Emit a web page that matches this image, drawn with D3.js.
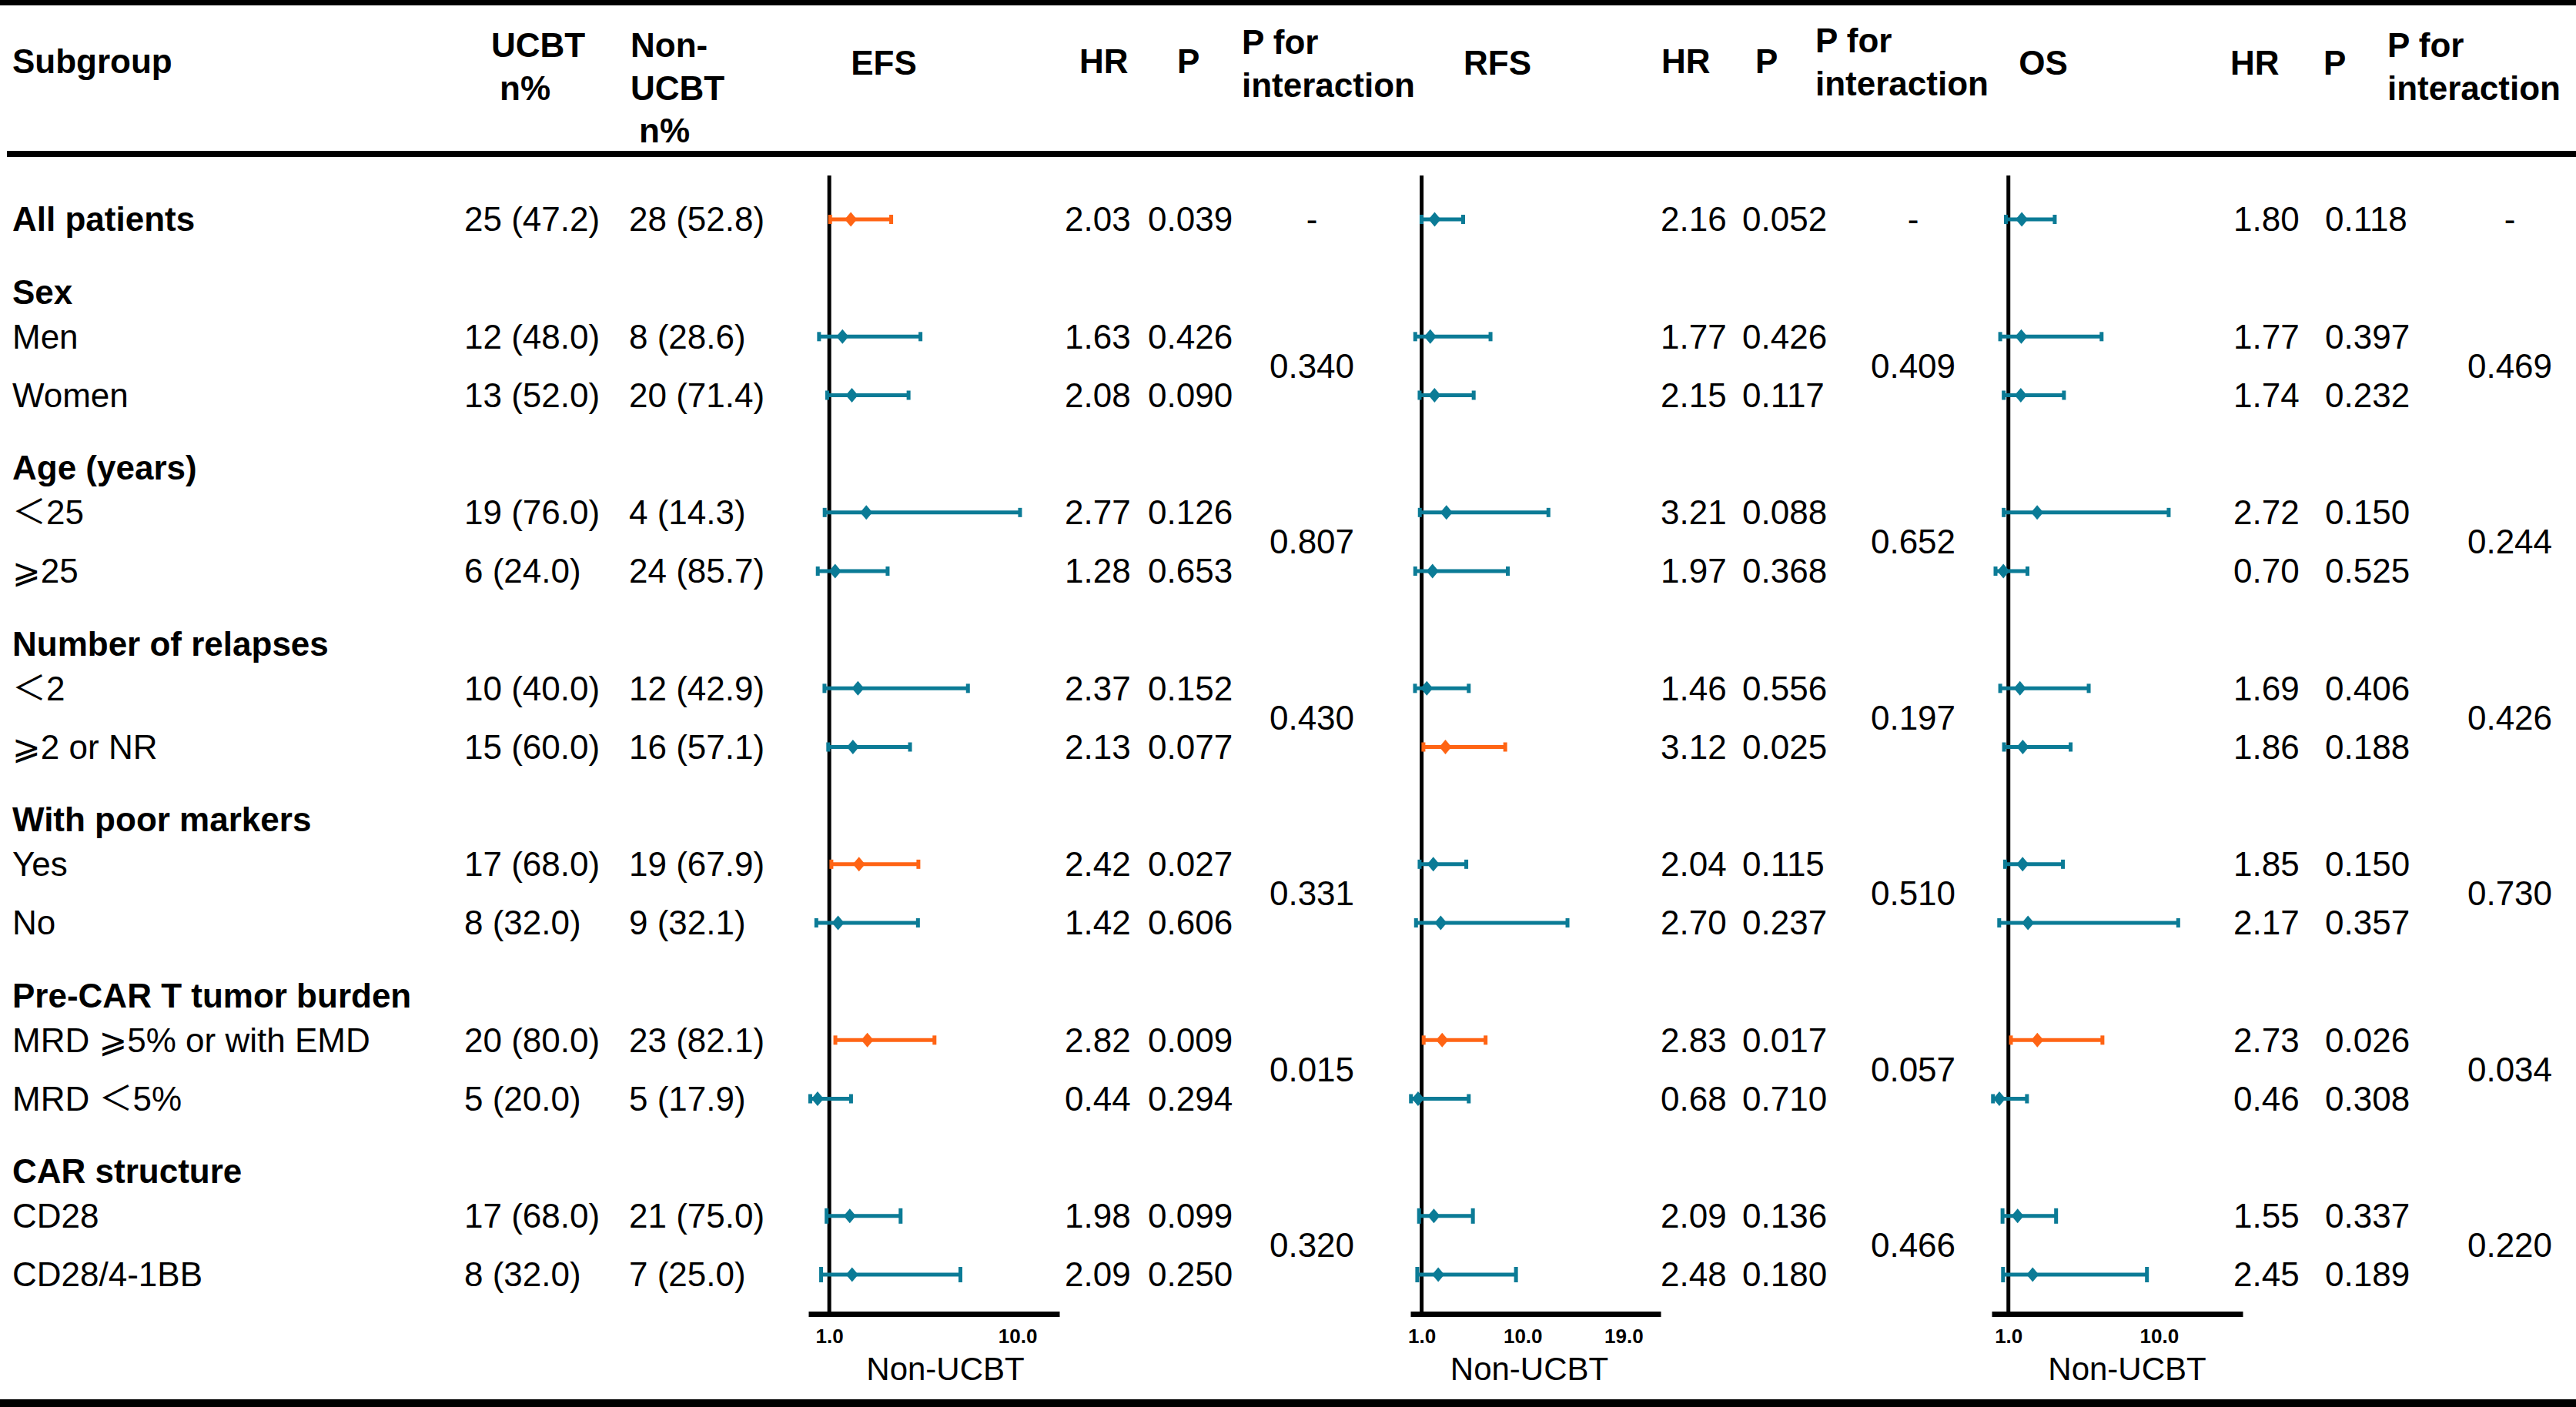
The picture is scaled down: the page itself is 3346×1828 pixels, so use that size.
<!DOCTYPE html>
<html lang="en">
<head>
<meta charset="UTF-8">
<title>Subgroup forest plot</title>
<script src="https://d3js.org/d3.v7.min.js"></script>
<style>
    body { margin: 0; background: #fff; }
    text {
        font-family: "Liberation Sans", Arial, "DejaVu Sans", "Noto Sans CJK SC", sans-serif;
        font-size: 44px;
        fill: #000;
    }
    .bold { font-weight: bold; }
    .tick text { font-size: 26px; font-weight: bold; }
</style>
</head>
<body>
<svg width="3346" height="1828"></svg>
<script>
    // rows of the table, top to bottom
    const subgroups = ["All patients", "Sex", "Men", "Women", "Age (years)", "＜25", "⩾25",
        "Number of relapses", "＜2", "⩾2 or NR", "With poor markers", "Yes", "No",
        "Pre-CAR T tumor burden", "MRD ⩾5% or with EMD", "MRD ＜5%", "CAR structure",
        "CD28", "CD28/4-1BB"];
    const rowType = ["all", "head", "sub", "sub", "head", "sub", "sub", "head", "sub", "sub",
        "head", "sub", "sub", "head", "sub", "sub", "head", "sub", "sub"];
    // group each row belongs to (0 = all patients)
    const rowGroup = [0, 1, 1, 1, 2, 2, 2, 3, 3, 3, 4, 4, 4, 5, 5, 5, 6, 6, 6];

    // values for the 13 rows that carry data (all patients + subgroups)
    const ucbt = ["25 (47.2)", "12 (48.0)", "13 (52.0)", "19 (76.0)", "6 (24.0)", "10 (40.0)",
        "15 (60.0)", "17 (68.0)", "8 (32.0)", "20 (80.0)", "5 (20.0)", "17 (68.0)", "8 (32.0)"];
    const nonUcbt = ["28 (52.8)", "8 (28.6)", "20 (71.4)", "4 (14.3)", "24 (85.7)", "12 (42.9)",
        "16 (57.1)", "19 (67.9)", "9 (32.1)", "23 (82.1)", "5 (17.9)", "21 (75.0)", "7 (25.0)"];

    const efsHR = [2.03, 1.63, 2.08, 2.77, 1.28, 2.37, 2.13, 2.42, 1.42, 2.82, 0.44, 1.98, 2.09];
    const efsLow = [1.04, 0.51, 0.90, 0.78, 0.45, 0.77, 0.95, 1.10, 0.38, 1.29, 0.09, 0.87, 0.61];
    const efsHigh = [3.96, 5.36, 4.79, 10.12, 3.79, 7.63, 4.86, 5.26, 5.24, 6.03, 2.04, 4.41, 7.27];
    const efsP = ["0.039", "0.426", "0.090", "0.126", "0.653", "0.152", "0.077", "0.027", "0.606",
        "0.009", "0.294", "0.099", "0.250"];

    const rfsHR = [2.16, 1.77, 2.15, 3.21, 1.97, 1.46, 3.12, 2.04, 2.70, 2.83, 0.68, 2.09, 2.48];
    const rfsLow = [0.99, 0.43, 0.82, 0.84, 0.43, 0.41, 1.16, 0.82, 0.50, 1.18, 0.05, 0.77, 0.61];
    const rfsHigh = [4.70, 7.14, 5.64, 12.3, 8.68, 5.20, 8.45, 4.98, 14.0, 6.70, 5.20, 5.57, 9.41];
    const rfsP = ["0.052", "0.426", "0.117", "0.088", "0.368", "0.556", "0.025", "0.115", "0.237",
        "0.017", "0.710", "0.136", "0.180"];

    const osHR = [1.80, 1.77, 1.74, 2.72, 0.70, 1.69, 1.86, 1.85, 2.17, 2.73, 0.46, 1.55, 2.45];
    const osLow = [0.85, 0.51, 0.72, 0.72, 0.23, 0.51, 0.74, 0.80, 0.45, 1.15, 0.08, 0.65, 0.68];
    const osHigh = [3.77, 6.57, 4.32, 10.58, 2.14, 5.80, 4.72, 4.26, 11.15, 6.62, 2.11, 3.85, 9.28];
    const osP = ["0.118", "0.397", "0.232", "0.150", "0.525", "0.406", "0.188", "0.150", "0.357",
        "0.026", "0.308", "0.337", "0.189"];

    // P for interaction, one per group
    const efsPint = ["-", "0.340", "0.807", "0.430", "0.331", "0.015", "0.320"];
    const rfsPint = ["-", "0.409", "0.652", "0.197", "0.510", "0.057", "0.466"];
    const osPint = ["-", "0.469", "0.244", "0.426", "0.730", "0.034", "0.220"];

    // axis ticks
    const efsTicks = [1, 10];
    const rfsTicks = [1, 10, 19];
    const osTicks = [1, 10];

    const svg = d3.select("svg");
    const W = 3346;
    const orange = "#ff6414";
    const teal = "#0b7b96";

    const y = d3.scaleLinear().domain([0, subgroups.length - 1]).range([285, 1656]);
    const headOffset = 18;
    const axisY = 1707;

    // rule lines
    svg.append("rect").attr("x", 0).attr("y", 0).attr("width", W).attr("height", 7);
    svg.append("rect").attr("x", 9).attr("y", 196).attr("width", W - 9).attr("height", 8);
    svg.append("rect").attr("x", 0).attr("y", 1818).attr("width", W).attr("height", 10);

    // column headers
    const headers = [
        { t: "Subgroup", x: 16, y: 95 },
        { t: "UCBT", x: 638, y: 74 }, { t: "n%", x: 649, y: 130 },
        { t: "Non-", x: 819, y: 74 }, { t: "UCBT", x: 819, y: 130 }, { t: "n%", x: 830, y: 185 },
        { t: "EFS", x: 1148, y: 97, mid: true }, { t: "HR", x: 1402, y: 95 }, { t: "P", x: 1529, y: 95 },
        { t: "P for", x: 1613, y: 70 }, { t: "interaction", x: 1613, y: 126 },
        { t: "RFS", x: 1945, y: 97, mid: true }, { t: "HR", x: 2158, y: 95 }, { t: "P", x: 2280, y: 95 },
        { t: "P for", x: 2358, y: 68 }, { t: "interaction", x: 2358, y: 124 },
        { t: "OS", x: 2654, y: 97, mid: true }, { t: "HR", x: 2897, y: 97 }, { t: "P", x: 3018, y: 97 },
        { t: "P for", x: 3101, y: 74 }, { t: "interaction", x: 3101, y: 130 }
    ];
    svg.selectAll(".hdr").data(headers).enter().append("text")
        .attr("class", "hdr bold")
        .attr("x", d => d.x).attr("y", d => d.y)
        .attr("text-anchor", d => d.mid ? "middle" : "start")
        .text(d => d.t);

    // subgroup labels
    svg.selectAll(".lbl").data(subgroups).enter().append("text")
        .attr("class", (d, i) => rowType[i] === "sub" ? "lbl" : "lbl bold")
        .attr("x", 16)
        .attr("y", (d, i) => y(i) + (rowType[i] === "head" ? headOffset : 0))
        .attr("dy", "0.35em")
        .text(d => d);

    const dataRows = d3.range(subgroups.length).filter(i => rowType[i] !== "head");

    function colText(values, x, anchor) {
        svg.append("g").selectAll("text").data(values).enter().append("text")
            .attr("x", x)
            .attr("y", (d, k) => y(dataRows[k]))
            .attr("dy", "0.35em")
            .attr("text-anchor", anchor || "start")
            .text(d => d);
    }
    colText(ucbt, 603);
    colText(nonUcbt, 817);

    function pintY(g) {
        const rows = dataRows.filter(i => rowGroup[i] === g);
        return d3.mean(rows, i => y(i));
    }

    const panels = [
        { hr: efsHR, lo: efsLow, hi: efsHigh, p: efsP, pint: efsPint, ticks: efsTicks,
          domain: [0, 12], range: [1050, 1376], hrX: 1383, pX: 1491, pintX: 1704, labelDx: 15 },
        { hr: rfsHR, lo: rfsLow, hi: rfsHigh, p: rfsP, pint: rfsPint, ticks: rfsTicks,
          domain: [0, 22.3], range: [1832, 2157], hrX: 2157, pX: 2263, pintX: 2485, labelDx: -8 },
        { hr: osHR, lo: osLow, hi: osHigh, p: osP, pint: osPint, ticks: osTicks,
          domain: [0, 15], range: [2587, 2913], hrX: 2901, pX: 3020, pintX: 3260, labelDx: 13 }
    ];

    panels.forEach(pn => {
        const x = d3.scaleLinear().domain(pn.domain).range(pn.range);

        // reference line at HR = 1
        svg.append("line")
            .attr("x1", x(1)).attr("x2", x(1))
            .attr("y1", 228).attr("y2", axisY)
            .attr("stroke", "#000").attr("stroke-width", 5);

        // axis
        const ax = svg.append("g")
            .attr("transform", `translate(0,${axisY})`)
            .call(d3.axisBottom(x).tickValues(pn.ticks).tickSize(0).tickSizeOuter(0)
                .tickPadding(20).tickFormat(d3.format(".1f")));
        ax.select(".domain").attr("stroke", "#000").attr("stroke-width", 7);
        ax.selectAll(".tick text").attr("font-family", null);

        svg.append("text")
            .attr("x", (pn.range[0] + pn.range[1]) / 2 + pn.labelDx)
            .attr("y", 1793)
            .attr("text-anchor", "middle")
            .style("font-size", "42px")
            .text("Non-UCBT");

        const rows = pn.hr.map((h, k) => ({
            yy: y(dataRows[k]), hr: h, lo: pn.lo[k], hi: pn.hi[k], p: pn.p[k],
            big: rowGroup[dataRows[k]] === 6
        }));
        const col = d => +d.p < 0.05 ? orange : teal;

        const g = svg.append("g");
        g.selectAll(".ci").data(rows).enter().append("line")
            .attr("x1", d => x(d.lo)).attr("x2", d => x(d.hi))
            .attr("y1", d => d.yy).attr("y2", d => d.yy)
            .attr("stroke", col).attr("stroke-width", 5);
        ["lo", "hi"].forEach(k => {
            g.selectAll(".cap" + k).data(rows).enter().append("rect")
                .attr("x", d => x(d[k]) - 2.5)
                .attr("y", d => d.yy - (d.big ? 10 : 6))
                .attr("width", 5)
                .attr("height", d => d.big ? 20 : 12)
                .attr("fill", col);
        });
        g.selectAll(".pt").data(rows).enter().append("path")
            .attr("d", d => {
                const cx = x(d.hr), cy = d.yy;
                return `M${cx - 8},${cy}L${cx},${cy - 9.5}L${cx + 8},${cy}L${cx},${cy + 9.5}Z`;
            })
            .attr("fill", col);

        // HR and P columns
        colText(pn.hr.map(v => v.toFixed(2)), pn.hrX);
        colText(pn.p, pn.pX);

        // P for interaction
        svg.append("g").selectAll("text").data(pn.pint).enter().append("text")
            .attr("x", pn.pintX)
            .attr("y", (d, gi) => pintY(gi))
            .attr("dy", "0.35em")
            .attr("text-anchor", "middle")
            .text(d => d);
    });
</script>
</body>
</html>
